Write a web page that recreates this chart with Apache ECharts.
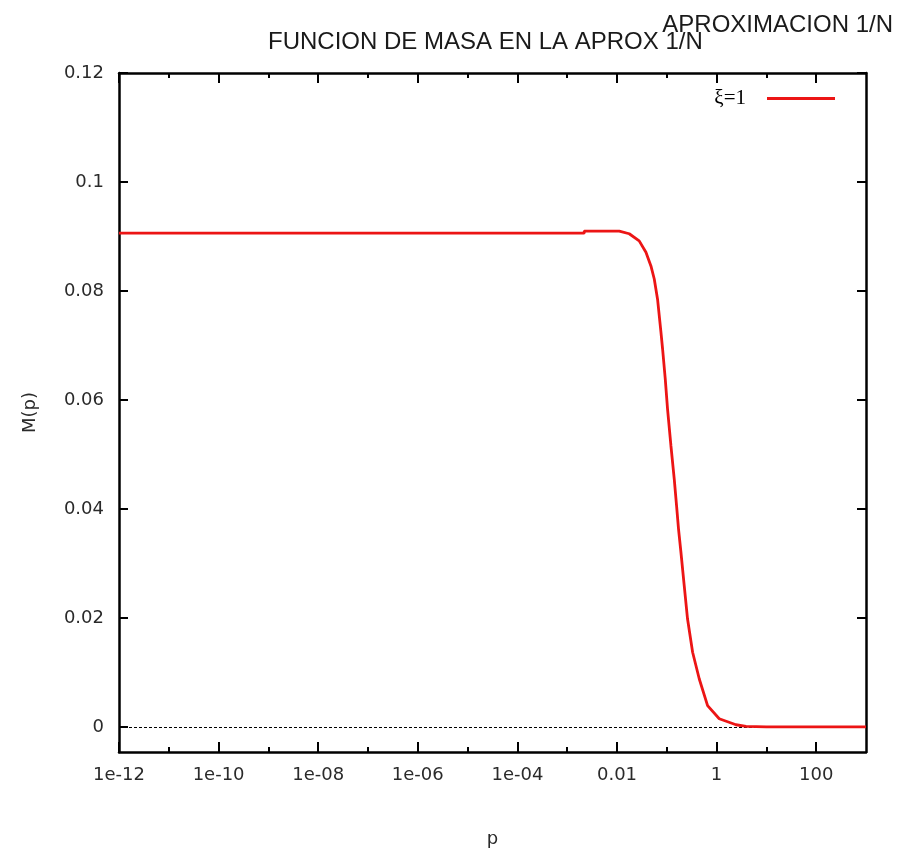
<!DOCTYPE html>
<html>
<head>
<meta charset="utf-8">
<script src="https://cdn.jsdelivr.net/npm/echarts@6/dist/echarts.min.js"></script>
<style>
html,body{margin:0;padding:0;background:#ffffff;}
#chart{width:897px;height:853px;}
</style>
</head>
<body>
<div id="chart"></div>
<script>
// ---- data ----
const titleMain = 'FUNCION DE MASA EN LA APROX 1/N';
const titleSide = 'APROXIMACION 1/N';
const seriesName = 'ξ=1';
const xName = 'p';
const yName = 'M(p)';

// momentum p (log scale) and mass function M(p)
const pValues = [1e-12, 1e-10, 1e-8, 1e-6, 1e-4, 0.0022, 0.0022, 0.0111, 0.0176, 0.0279, 0.0381, 0.048, 0.056, 0.0652, 0.0762, 0.0822, 0.093, 0.1035, 0.121, 0.141, 0.157, 0.172, 0.192, 0.224, 0.261, 0.33, 0.449, 0.659, 1.13, 2.45, 3.9, 10, 1000];
const mValues = [0.0906, 0.0906, 0.0906, 0.0906, 0.0906, 0.0906, 0.0910, 0.0910, 0.0905, 0.0892, 0.0871, 0.0846, 0.0822, 0.0785, 0.0725, 0.0694, 0.0639, 0.0583, 0.0516, 0.0455, 0.0406, 0.0363, 0.0321, 0.0259, 0.0198, 0.0137, 0.0088, 0.0039, 0.0015, 0.0004, 0.0001, 0, 0];

// axis ticks
const xMajorTicks = [1e-12, 1e-10, 1e-8, 1e-6, 1e-4, 1e-2, 1, 100];
const xTickLabels = ['1e-12', '1e-10', '1e-08', '1e-06', '1e-04', '0.01', '1', '100'];
const xMinorTicks = [1e-11, 1e-9, 1e-7, 1e-5, 1e-3, 1e-1, 10];
const yTicks = [0, 0.02, 0.04, 0.06, 0.08, 0.1, 0.12];
const yTickLabels = ['0', '0.02', '0.04', '0.06', '0.08', '0.1', '0.12'];

const xMin = 1e-12, xMax = 1000, yMin = -0.0046, yMax = 0.12;

// ---- chart ----
const chart = echarts.init(document.getElementById('chart'), null, {renderer: 'canvas'});
const seriesData = pValues.map((p, i) => [p, mValues[i]]);

const labelFont = {fontFamily: 'DejaVu Sans', fontSize: 18, color: '#2a2a2a'};
const axisLineStyle = {color: '#000', width: 2.5};

function xLabel(v) {
  for (let i = 0; i < xMajorTicks.length; i++) {
    if (Math.abs(Math.log10(v) - Math.log10(xMajorTicks[i])) < 1e-6) return xTickLabels[i];
  }
  return '';
}
function yLabel(v) {
  for (let i = 0; i < yTicks.length; i++) {
    if (Math.abs(v - yTicks[i]) < 1e-9) return yTickLabels[i];
  }
  return '';
}

function makeX(pos, ticks, len, showLabel, showLine, extra) {
  return Object.assign({
    type: 'log', logBase: 10, min: xMin, max: xMax, position: pos,
    axisLine: {show: showLine, onZero: false, lineStyle: axisLineStyle},
    axisTick: {show: true, inside: true, length: len, customValues: ticks, lineStyle: {color: '#000', width: 2}},
    axisLabel: {show: showLabel, customValues: ticks, formatter: xLabel, margin: 14, ...labelFont},
    splitLine: {show: false}, minorTick: {show: false}
  }, extra || {});
}
function makeY(pos, showLabel, extra) {
  return Object.assign({
    type: 'value', min: yMin, max: yMax, position: pos,
    axisLine: {show: true, onZero: false, lineStyle: axisLineStyle},
    axisTick: {show: true, inside: true, length: 9, customValues: yTicks, lineStyle: {color: '#000', width: 2}},
    axisLabel: {show: showLabel, customValues: yTicks, formatter: yLabel, margin: 15, ...labelFont},
    splitLine: {show: false}
  }, extra || {});
}

const option = {
  backgroundColor: '#ffffff',
  animation: false,
  title: [
    {text: titleMain, left: 268, top: 30, padding: 0,
     textStyle: {fontFamily: 'Liberation Sans', fontSize: 24, fontWeight: 'normal', color: '#1a1a1a'}},
    {text: titleSide, right: 4, top: 13, padding: 0,
     textStyle: {fontFamily: 'Liberation Sans', fontSize: 24, fontWeight: 'normal', color: '#1a1a1a'}}
  ],
  grid: {left: 119, right: 31, top: 73, bottom: 100, containLabel: false},
  legend: {
    right: 57, top: 83, itemWidth: 68, itemHeight: 3, align: 'right', icon: 'rect',
    data: [{name: seriesName}],
    textStyle: {fontFamily: 'Liberation Serif', fontSize: 21, color: '#000', padding: [0, 16, 0, 0]}
  },
  xAxis: [
    makeX('bottom', xMajorTicks, 10, true, true, {
      name: xName, nameLocation: 'middle', nameGap: 78,
      nameTextStyle: {fontFamily: 'DejaVu Sans', fontSize: 18, color: '#2a2a2a'}
    }),
    makeX('bottom', xMinorTicks, 5, false, false),
    makeX('top', xMajorTicks, 10, false, true),
    makeX('top', xMinorTicks, 5, false, false)
  ],
  yAxis: [
    makeY('left', true, {
      name: yName, nameLocation: 'middle', nameGap: 80, nameRotate: 90,
      nameTextStyle: {fontFamily: 'DejaVu Sans', fontSize: 18, color: '#2a2a2a'}
    }),
    makeY('right', false)
  ],
  series: [{
    name: seriesName, type: 'line', xAxisIndex: 0, yAxisIndex: 0,
    data: seriesData, showSymbol: false, symbol: 'none', smooth: false, z: 3,
    lineStyle: {color: '#ec1515', width: 2.8},
    itemStyle: {color: '#ec1515'},
    markLine: {
      silent: true, symbol: ['none', 'none'], z: 1,
      label: {show: false},
      lineStyle: {color: '#000', type: [3, 2], width: 1},
      data: [{yAxis: 0}]
    }
  }]
};
chart.setOption(option);
</script>
</body>
</html>
